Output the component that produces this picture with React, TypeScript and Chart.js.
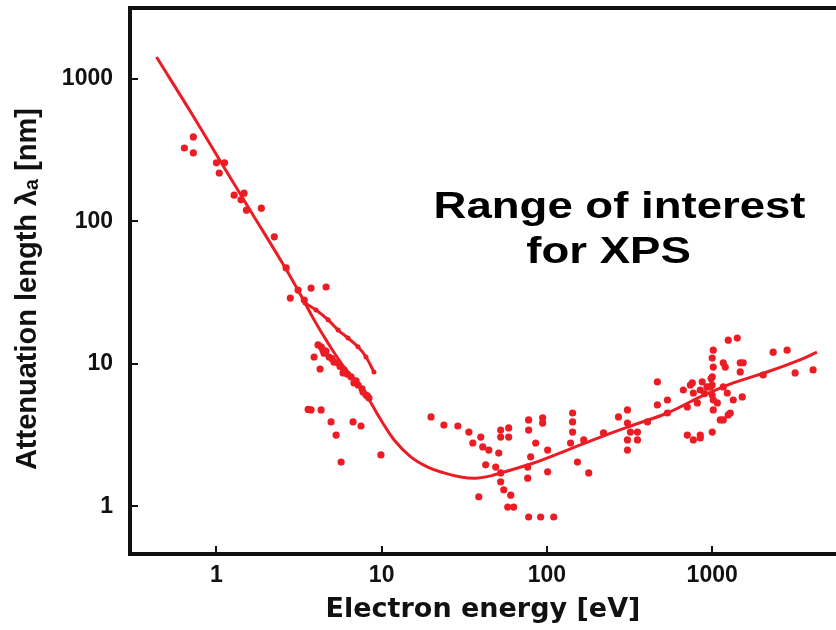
import { useEffect, useRef } from 'react';
import { Chart, registerables } from 'chart.js';

Chart.register(...registerables);

// ---- data (electron energy in eV, attenuation length in nm) ----
const curveEnergy = [0.434, 0.705, 1.07, 1.62, 2.57, 3.26, 3.9, 4.74, 5.92, 7.5, 8.62, 9.9, 11.9, 15.0, 19.0, 23.8, 30.1, 37.1, 45.7, 52.5, 83.1, 133, 211, 334, 536, 847, 1341, 2148, 3398, 4305];
const curveLength = [1426, 577, 258, 117, 48.7, 30.0, 20.4, 14.0, 9.52, 6.9, 5.33, 4.05, 2.93, 2.23, 1.89, 1.72, 1.61, 1.58, 1.64, 1.72, 2.02, 2.49, 3.07, 3.73, 4.53, 5.87, 7.36, 8.79, 10.7, 12.1];

const branchEnergy = [3.44, 4.01, 4.74, 5.45, 6.26, 7.19, 8.04, 8.98];
const branchLength = [26.8, 23.9, 20.4, 17.3, 15.2, 13.2, 11.2, 8.79];

const measuredLowEnergy: number[][] = [
  [0.64, 328], [0.725, 392], [0.725, 303], [1.0, 258], [1.12, 258], [1.04, 219], [1.28, 153], [1.47, 158],
  [1.41, 142], [1.52, 120], [1.87, 124], [2.24, 78], [2.64, 47.2], [2.8, 29.0], [3.12, 33.0], [3.4, 28.1],
  [3.74, 34.1], [4.61, 34.7],
  [4.12, 13.6], [4.3, 13.2], [4.48, 11.9], [4.81, 11.2], [5.15, 10.3], [5.45, 10.2], [5.84, 8.65], [5.92, 9.08],
  [6.53, 8.11], [6.8, 7.36], [7.19, 7.12], [7.71, 6.36], [8.04, 6.06], [8.38, 5.77],
  [4.4, 12.6], [4.6, 12.3], [5.0, 10.9], [5.6, 9.6], [6.2, 8.5], [7.0, 7.6], [7.6, 6.7], [8.2, 5.95],
  [3.9, 11.2], [4.24, 9.22], [3.59, 4.8], [3.74, 4.76], [4.3, 4.76], [4.94, 3.92], [5.3, 3.17], [6.71, 3.92],
  [7.5, 3.67], [5.68, 2.05], [9.9, 2.3],
];

const measuredMidEnergy: number[][] = [
  [19.9, 4.25], [23.8, 3.73], [28.9, 3.67], [33.7, 3.33], [39.8, 3.07], [35.6, 2.79], [40.9, 2.62], [44.5, 2.49],
  [42.6, 1.96], [49.0, 1.89], [52.5, 3.44], [58.7, 3.56], [52.5, 3.07], [58.7, 3.07], [51.1, 2.37], [52.5, 1.72],
  [52.5, 1.49], [54.8, 1.31], [60.4, 1.2], [57.9, 0.99], [62.9, 0.99], [38.7, 1.17], [77.5, 0.844], [91.6, 0.844],
  [110, 0.844], [77.5, 4.05], [94.2, 4.18], [77.5, 3.44], [94.2, 3.85], [85.5, 2.79], [79.7, 2.23], [76.5, 1.89],
  [76.5, 1.58], [101, 2.49], [101, 1.75],
  [143, 4.53], [143, 3.92], [143, 3.33], [139, 2.79], [153, 2.05], [179, 1.72], [167, 2.93], [220, 3.28],
  [271, 4.25], [307, 4.76], [307, 3.85], [320, 3.33], [353, 3.33], [307, 2.93], [307, 2.49], [353, 2.93],
];

const measuredHighEnergy: number[][] = [
  [466, 7.48], [466, 5.16], [536, 5.59], [536, 4.53], [406, 3.92],
  [707, 3.17], [769, 2.93], [847, 3.17], [847, 3.03], [738, 7.12], [769, 6.26], [847, 6.57], [813, 5.33],
  [974, 6.9], [1015, 12.5], [1015, 9.52], [1001, 8.11], [1015, 5.59], [1015, 4.76], [1001, 3.33], [1119, 4.05],
  [1251, 4.39], [1234, 6.26], [1200, 9.52], [1251, 14.7], [1418, 15.2], [1478, 10.2], [1520, 5.87], [1341, 5.59],
  [2035, 8.37], [2339, 12.1], [2841, 12.5], [3176, 8.65], [4079, 9.08],
  [758, 7.36], [669, 6.57], [707, 4.99], [1167, 4.05], [1286, 4.53], [1541, 10.2], [1167, 10.2], [1478, 8.79],
  [1167, 6.9], [1074, 5.33], [1000, 7.12], [1000, 6.06], [1000, 11.0], [985, 7.9], [870, 7.5], [930, 6.9], [900, 6.2],
];

const xTicks = [1, 10, 100, 1000];
const yTicks = [1, 10, 100, 1000];
const xRange = [0.306, 5614];
const yRange = [0.464, 3150];
const xTitle = 'Electron energy [eV]';
const yTitle = 'Attenuation length λₐ [nm]  ';
const noteLines = ['Range of interest', 'for XPS'];
const noteAnchor = { energy: 275, length: 106 };

const RED = 'rgb(236,28,36)';
const INK = '#111111';

const toPoints = (xs: number[], ys: number[]) => xs.map((x, i) => ({ x, y: ys[i] }));
const pairPoints = (arr: number[][]) => arr.map(([x, y]) => ({ x, y }));

const decorPlugin = {
  id: 'decor',
  afterDraw(chart: any) {
    const { ctx, chartArea: a, scales } = chart;
    const xs = scales.x;
    const ys = scales.y;
    ctx.save();
    ctx.strokeStyle = INK;
    ctx.lineWidth = 2;
    ctx.beginPath();
    xTicks.forEach((v) => {
      const px = Math.round(xs.getPixelForValue(v));
      ctx.moveTo(px, a.bottom);
      ctx.lineTo(px, a.bottom - 8);
    });
    yTicks.forEach((v) => {
      const py = Math.round(ys.getPixelForValue(v));
      ctx.moveTo(a.left, py);
      ctx.lineTo(a.left + 8, py);
    });
    ctx.stroke();
    // top frame line
    ctx.lineWidth = 4;
    ctx.beginPath();
    ctx.moveTo(a.left - 2, a.top);
    ctx.lineTo(a.right, a.top);
    ctx.stroke();

    // annotation
    const cx = xs.getPixelForValue(noteAnchor.energy);
    const by = ys.getPixelForValue(noteAnchor.length);
    const sx = 1.265;
    ctx.translate(cx, by);
    ctx.scale(sx, 1);
    ctx.fillStyle = '#000';
    ctx.font = 'bold 36px "Liberation Sans", Arial, sans-serif';
    ctx.textAlign = 'center';
    ctx.textBaseline = 'alphabetic';
    ctx.fillText(noteLines[0], 0, 0);
    ctx.fillText(noteLines[1], -11 / sx, 45);
    ctx.restore();
  },
};

export default function App() {
  const ref = useRef<HTMLCanvasElement>(null);

  useEffect(() => {
    const canvas = ref.current;
    if (!canvas) return;
    const tickFont = { family: '"Liberation Sans", Arial, sans-serif', weight: 'bold' as const, size: 23 };
    const chart = new Chart(canvas, {
      type: 'scatter',
      data: {
        datasets: [
          {
            type: 'line',
            label: 'fit',
            data: toPoints(curveEnergy, curveLength),
            borderColor: RED,
            backgroundColor: RED,
            borderWidth: 3,
            pointRadius: 0,
            tension: 0.4,
            fill: false,
          },
          {
            type: 'line',
            label: 'branch',
            data: toPoints(branchEnergy, branchLength),
            borderColor: RED,
            backgroundColor: RED,
            borderWidth: 3,
            pointRadius: 2.5,
            pointBorderWidth: 0,
            tension: 0.3,
            fill: false,
          },
          {
            label: 'low',
            data: pairPoints(measuredLowEnergy),
            backgroundColor: RED,
            borderWidth: 0,
            pointRadius: 3.6,
          },
          {
            label: 'mid',
            data: pairPoints(measuredMidEnergy),
            backgroundColor: RED,
            borderWidth: 0,
            pointRadius: 3.6,
          },
          {
            label: 'high',
            data: pairPoints(measuredHighEnergy),
            backgroundColor: RED,
            borderWidth: 0,
            pointRadius: 3.6,
          },
        ],
      },
      options: {
        responsive: false,
        animation: false,
        events: [],
        layout: { padding: { top: 8, right: 0, bottom: 0, left: 0 }, autoPadding: false },
        plugins: { legend: { display: false }, tooltip: { enabled: false } },
        scales: {
          x: {
            type: 'logarithmic',
            min: xRange[0],
            max: xRange[1],
            afterBuildTicks: (s: any) => {
              s.ticks = xTicks.map((v) => ({ value: v }));
            },
            afterFit: (s: any) => {
              s.height = 76;
              s.paddingLeft = 0;
              s.paddingRight = 0;
            },
            ticks: {
              callback: (v: any) => String(v),
              font: tickFont,
              color: INK,
              padding: 8,
              autoSkip: false,
              maxRotation: 0,
            },
            grid: { display: false, drawTicks: false },
            border: { display: true, color: INK, width: 4 },
            title: {
              display: true,
              text: xTitle,
              color: INK,
              font: { family: '"DejaVu Sans", sans-serif', weight: 'bold', size: 27 },
              padding: { top: 0, bottom: 4 },
            },
          },
          y: {
            type: 'logarithmic',
            min: yRange[0],
            max: yRange[1],
            afterBuildTicks: (s: any) => {
              s.ticks = yTicks.map((v) => ({ value: v }));
            },
            afterFit: (s: any) => {
              s.width = 130;
              s.paddingTop = 0;
              s.paddingBottom = 0;
            },
            ticks: {
              callback: (v: any) => String(v),
              font: tickFont,
              color: INK,
              padding: 17,
              autoSkip: false,
            },
            grid: { display: false, drawTicks: false },
            border: { display: true, color: INK, width: 4 },
            title: {
              display: true,
              text: yTitle,
              color: INK,
              font: { family: '"Liberation Sans", "DejaVu Sans", sans-serif', weight: 'bold', size: 29 },
              padding: { top: 11, bottom: 0 },
            },
          },
        },
      },
      plugins: [decorPlugin],
    } as any);
    return () => chart.destroy();
  }, []);

  return (
    <canvas
      ref={ref}
      width={836}
      height={630}
      style={{ position: 'absolute', left: 0, top: 0, width: 836, height: 630, display: 'block', background: '#fff' }}
    />
  );
}
